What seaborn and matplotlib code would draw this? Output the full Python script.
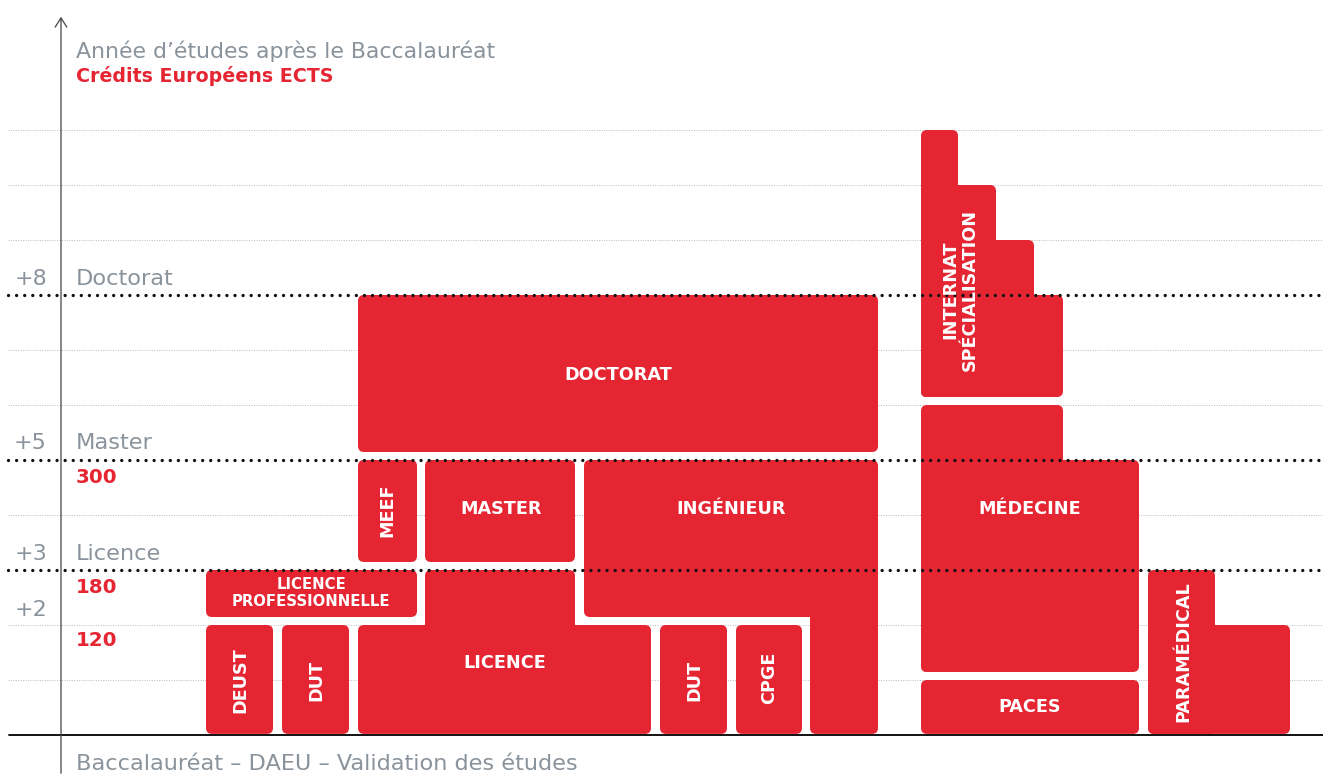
import matplotlib
matplotlib.use('Agg')
import matplotlib.pyplot as plt
from matplotlib.patches import FancyBboxPatch
import seaborn as sns

# Programmes: each is a union of rectangles (x from, x to, year from, year to)
programmes = ['DEUST', 'DUT', 'LICENCE\nPROFESSIONNELLE', 'LICENCE', 'MEEF', 'MASTER',
              'INGÉNIEUR', 'DUT', 'CPGE', 'DOCTORAT', 'MÉDECINE', 'PACES',
              'INTERNAT\nSPÉCIALISATION', 'PARAMÉDICAL']
parts = [
    [(206, 273, 0, 2)],
    [(282, 349, 0, 2)],
    [(206, 417, 2, 3)],
    [(358, 651, 0, 2), (425, 575, 1, 3)],
    [(358, 417, 3, 5)],
    [(425, 575, 3, 5)],
    [(584, 878, 2, 5), (810, 878, 0, 3)],
    [(660, 727, 0, 2)],
    [(736, 802, 0, 2)],
    [(358, 878, 5, 8)],
    [(921, 1139, 1, 5), (921, 1063, 1, 6)],
    [(921, 1139, 0, 1)],
    [(921, 958, 6, 11), (921, 996, 6, 10), (921, 1034, 6, 9), (921, 1063, 6, 8)],
    [(1148, 1215, 0, 3), (1148, 1290, 0, 2)],
]
label_x = [240, 316, 311, 505, 387, 501, 731, 694, 769, 618, 1030, 1030, 960, 1183]
label_y = [1.0, 1.0, 2.58, 1.31, 4.09, 4.1, 4.1, 1.0, 1.04, 6.55, 4.1, 0.51, 8.1, 1.52]
label_rot = [90, 90, 0, 0, 90, 0, 0, 90, 90, 0, 0, 0, 90, 90]
label_size = [12.7, 12.7, 10.7, 12.7, 12.7, 12.7, 12.7, 12.7, 12.7, 12.7, 12.7, 12.7, 12.7, 12.7]

# Left scale
level_marks = ['+8', '+5', '+3', '+2']
level_names = ['Doctorat', 'Master', 'Licence', '']
level_base = [8.18, 5.2, 3.18, 2.16]
ects_values = ['300', '180', '120']
ects_base = [4.58, 2.58, 1.62]
major_years = [3, 5, 8]
minor_years = [1, 2, 4, 6, 7, 9, 10, 11]

RED = '#e52532'
GREY = '#8a939b'
PX_PER_YEAR = 55.0
GAP = 8 / PX_PER_YEAR

sns.set_theme(style='white')
plt.rcParams['font.family'] = ['DejaVu Sans']

fig = plt.figure(figsize=(13.23, 7.76), dpi=100)
ax = fig.add_axes([0, 0, 1, 1])
ax.set_xlim(0, 1323)
ax.set_ylim(-41 / PX_PER_YEAR, 735 / PX_PER_YEAR)
ax.axis('off')

# faint grid
for yr in minor_years:
    ax.plot([8, 1323], [yr, yr], color='#b9b9b9', lw=0.7, ls=(0, (1, 1.5)), zorder=1)

# blocks
for name, shp, lx, ly, rot, fs in zip(programmes, parts, label_x, label_y, label_rot, label_size):
    for x0, x1, y0, y1 in shp:
        b = y0 + GAP if y0 > 0 else y0 + 0.02
        ax.add_patch(FancyBboxPatch((x0, b), x1 - x0, y1 - b,
                                    boxstyle='round,pad=0,rounding_size=6',
                                    mutation_aspect=1 / PX_PER_YEAR,
                                    fc=RED, ec='none', zorder=2))
    ax.text(lx, ly, name, rotation=rot, ha='center', va='center',
            color='white', fontsize=fs, fontweight='bold',
            linespacing=1.12, zorder=4)

# major dotted lines on top
lw = 2.4
for yr in major_years:
    ax.plot([8, 1323], [yr, yr], color='#111111', lw=lw, ls=(0, (0.01, 5.8 / lw)),
            dash_capstyle='round', zorder=3)

# baseline and vertical arrow
ax.plot([9, 1323], [0, 0], color='black', lw=1.3, zorder=3)
ax.annotate('', xy=(61, 721 / PX_PER_YEAR), xytext=(61, -41 / PX_PER_YEAR),
            arrowprops=dict(arrowstyle='->,head_length=0.55,head_width=0.35',
                            color='#444444', lw=0.9), zorder=3)

# left labels
for mk, nm, yb in zip(level_marks, level_names, level_base):
    ax.text(47, yb, mk, ha='right', va='baseline', color=GREY, fontsize=16)
    ax.text(76, yb, nm, ha='left', va='baseline', color=GREY, fontsize=16.2)
for v, yb in zip(ects_values, ects_base):
    ax.text(76, yb, v, ha='left', va='baseline', color=RED, fontsize=14.3, fontweight='bold')

ax.text(76, 12.31, "Année d’études après le Baccalauréat", ha='left', va='baseline',
        color=GREY, fontsize=15.8)
ax.text(76, 11.87, 'Crédits Européens ECTS', ha='left', va='baseline', color=RED,
        fontsize=13.7, fontweight='bold')
ax.text(76, -0.64, 'Baccalauréat – DAEU – Validation des études', ha='left', va='baseline',
        color=GREY, fontsize=16.1)

fig.savefig('out.png', dpi=100, facecolor='white')
